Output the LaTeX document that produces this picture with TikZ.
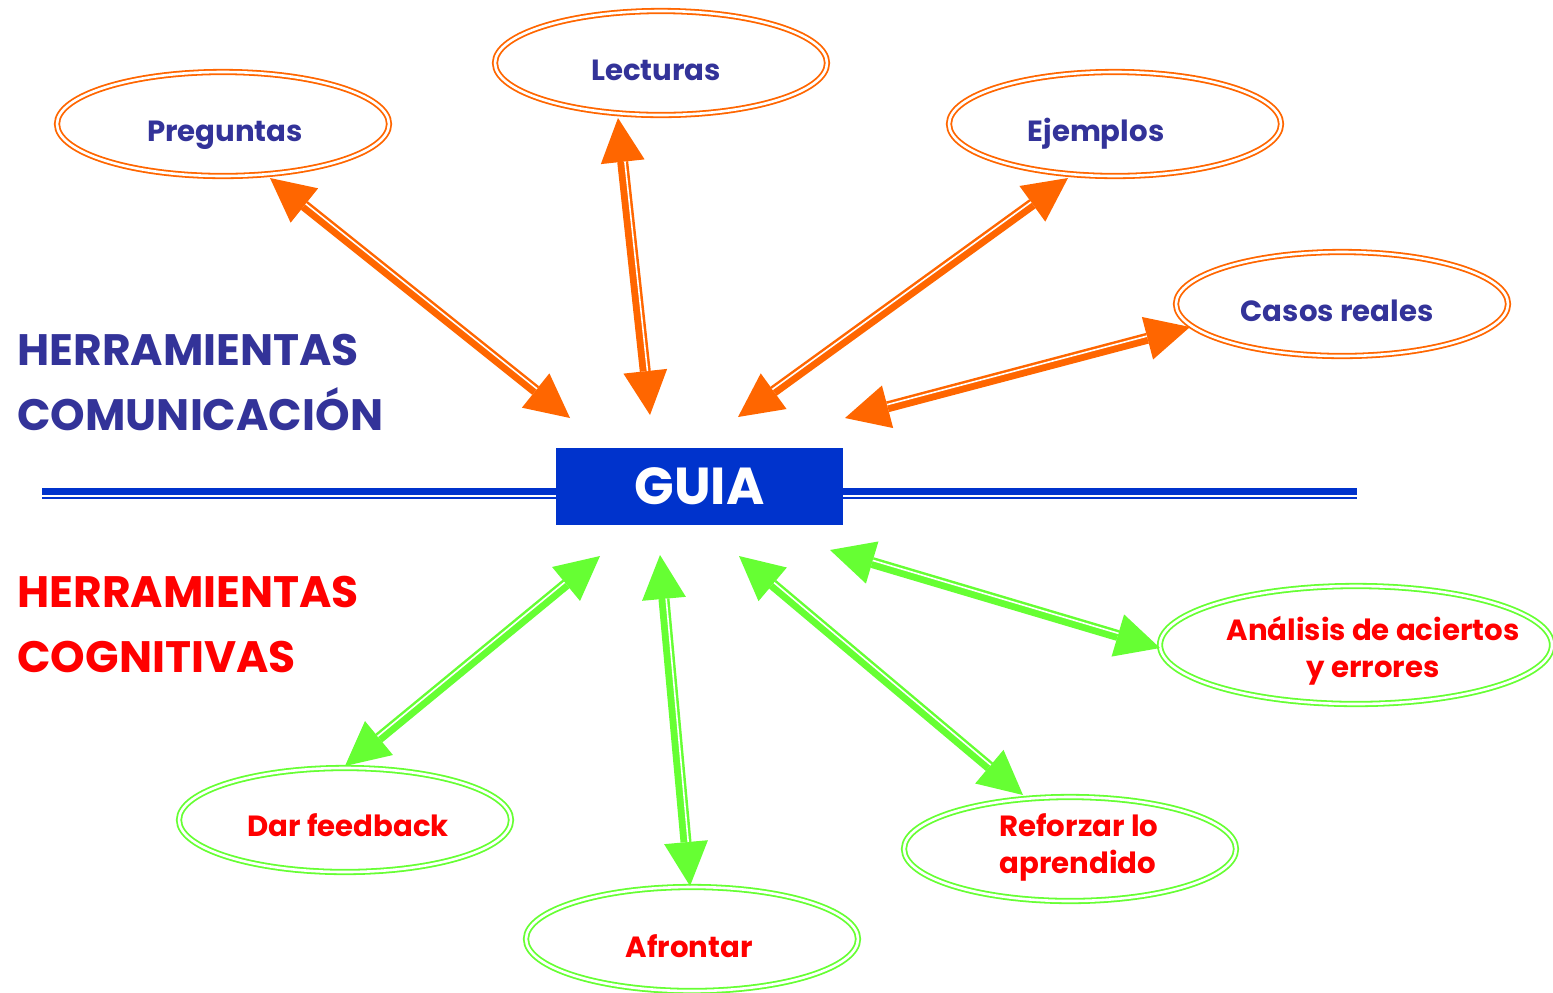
\documentclass[tikz,border=0pt]{standalone}
\usepackage{fontspec}
\setmainfont{Poppins}
\usetikzlibrary{shapes.geometric,arrows.meta,calc}
\definecolor{cor}{HTML}{FF6600}
\definecolor{cgr}{HTML}{66FF33}
\definecolor{cbl}{HTML}{333399}
\definecolor{cred}{HTML}{FF0000}
\definecolor{cguia}{HTML}{0033CC}
\tikzset{
  oval/.style={ellipse, draw, double=white, double distance=1.3pt, line width=0.9pt,
    minimum width=166pt, minimum height=52pt, inner sep=0pt},
  ovo/.style={oval, draw=cor},
  ovg/.style={oval, draw=cgr},
  lbl/.style={font=\bfseries\fontsize{14.6}{19}\selectfont, inner sep=0pt, anchor=base},
  lbo/.style={lbl, text=cbl},
  lbg/.style={lbl, text=cred},
  shaft/.style={line width=5.5pt,
    arrows={Triangle[length=22pt,width=22pt,line width=0pt]-Triangle[length=22pt,width=22pt,line width=0pt]}},
  gapline/.style={draw=white, line width=0.8pt},
  big/.style={font=\bfseries\fontsize{22}{26}\selectfont, anchor=base west, inner sep=0pt},
  bline/.style={draw=cguia}
}
\newcommand{\dblarr}[4]{%
  \draw[shaft, draw=#3, fill=#3] (#1) -- (#2);
  \path ($(#1)!22pt!(#2)$) coordinate (s1) ($(#2)!22pt!(#1)$) coordinate (s2);
  \path ($(s1)!1.1pt!#4:(s2)$) coordinate (o1);
  \draw[gapline] (o1) -- ($(s2)+(o1)-(s1)$);
}
\begin{document}
\begin{tikzpicture}[x=0.5pt,y=-0.5pt]
\useasboundingbox (0,0) rectangle (1553,992);
% horizontal blue double line
\coordinate (la) at (42,491.5);
\coordinate (lb) at (1357,491.5);
\coordinate (lc) at (42,497.8);
\coordinate (ld) at (1357,497.8);
\draw[bline, line width=3.5pt] (la) -- (lb);
\draw[bline, line width=1.2pt] (lc) -- (ld);
% central box
\node[fill=cguia, minimum width=143.5pt, minimum height=38.5pt, inner sep=0pt,
      text=white, font=\bfseries\fontsize{26}{30}\selectfont] (guia) at (699.5,486.5) {GUIA};
% side labels
\node[big, text=cbl] (hc1) at (17,365) {HERRAMIENTAS};
\node[big, text=cbl] (hc2) at (17,430) {COMUNICACIÓN};
\node[big, text=cred] (hg1) at (17,607) {HERRAMIENTAS};
\node[big, text=cred] (hg2) at (17,672) {COGNITIVAS};
% orange ovals
\node[ovo] (pre) at (223,124) {};
\node[ovo] (lec) at (661,63) {};
\node[ovo] (eje) at (1115,124) {};
\node[ovo] (cas) at (1342,304) {};
\node[lbo] (preT) at (225,141) {Preguntas};
\node[lbo] (lecT) at (656,80) {Lecturas};
\node[lbo] (ejeT) at (1096,141) {Ejemplos};
\node[lbo] (casT) at (1337,321) {Casos reales};
% green ovals
\node[ovg] (dar) at (345,820) {};
\node[ovg] (afr) at (692,939) {};
\node[ovg] (ref) at (1070,849) {};
\node[ovg, minimum width=196pt, minimum height=59pt] (ana) at (1356,645) {};
\node[lbg] (darT) at (348,836) {Dar feedback};
\node[lbg] (afrT) at (689,957) {Afrontar};
\node[lbg, anchor=base west] (refT1) at (999,836) {Reforzar lo};
\node[lbg, anchor=base west] (refT2) at (999,873) {aprendido};
\node[lbg] (anaT1) at (1373,640) {Análisis de aciertos};
\node[lbg] (anaT2) at (1373,677) {y errores};
% arrow tips
\coordinate (tP1) at (270,178);  \coordinate (tP2) at (570,418);
\coordinate (tL1) at (618,118);  \coordinate (tL2) at (650,415);
\coordinate (tE1) at (1068,178); \coordinate (tE2) at (738,417);
\coordinate (tC1) at (1190,327); \coordinate (tC2) at (845,418);
\coordinate (tD1) at (345,766);  \coordinate (tD2) at (600,556);
\coordinate (tA1) at (690,886);  \coordinate (tA2) at (660,555);
\coordinate (tR1) at (1023,795); \coordinate (tR2) at (739,556);
\coordinate (tN1) at (1160,648); \coordinate (tN2) at (830,550);
% arrows
\dblarr{tP1}{tP2}{cor}{90}
\dblarr{tL1}{tL2}{cor}{90}
\dblarr{tE1}{tE2}{cor}{-90}
\dblarr{tC1}{tC2}{cor}{-90}
\dblarr{tD1}{tD2}{cgr}{90}
\dblarr{tA1}{tA2}{cgr}{-90}
\dblarr{tR1}{tR2}{cgr}{-90}
\dblarr{tN1}{tN2}{cgr}{-90}
\end{tikzpicture}
\end{document}
